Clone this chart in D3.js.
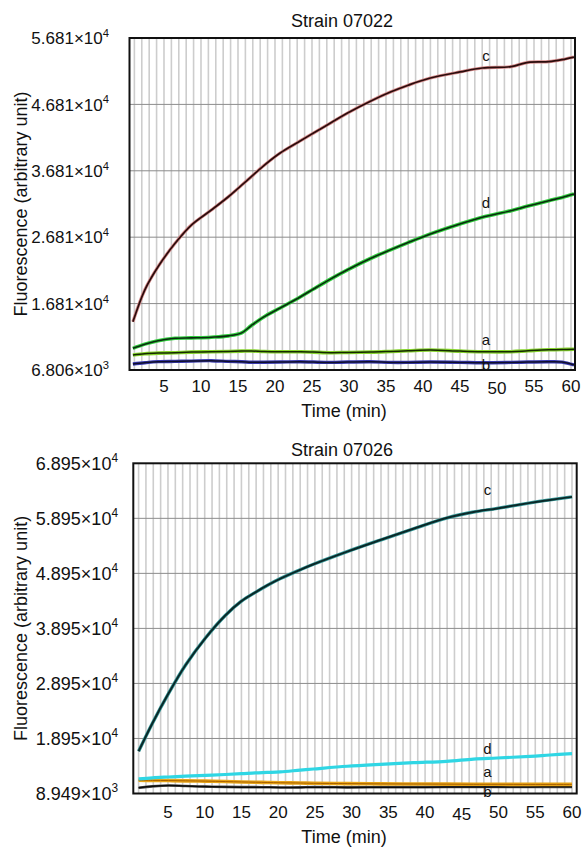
<!DOCTYPE html>
<html>
<head>
<meta charset="utf-8">
<script src="https://cdn.jsdelivr.net/npm/d3@7"></script>
<style>
  body { margin: 0; background: #fff; }
  text { font-family: "Liberation Sans", Arial, sans-serif; fill: #111; }
</style>
</head>
<body>
<div id="chart"></div>
<script>
(function () {

    var width = 586, height = 849

    // ---- data ----
    var xTicks = [5, 10, 15, 20, 25, 30, 35, 40, 45, 50, 55, 60]
    var gridMinutes = d3.range(1, 61)

    // Strain 07022
    var topTitle = 'Strain 07022'
    var topYTicks = [6806, 16810, 26810, 36810, 46810, 56810]
    var topYLabels = [['6.806', '3'], ['1.681', '4'], ['2.681', '4'], ['3.681', '4'], ['4.681', '4'], ['5.681', '4']]
    var topTime = [0.8, 2.4, 4.2, 6.5, 8.7, 11.4, 13.7, 15.5, 16.8, 18.5, 20.7, 23.4, 25.2, 27.5, 29.8, 32.9, 35.6, 38, 41, 45, 48, 51.9, 54.2, 57, 58.8, 60.4]
    var topC = [14060, 18850, 22360, 25890, 28640, 30900, 32900, 34650, 35920, 37600, 39490, 41300, 42500, 44000, 45510, 47300, 48670, 49700, 50780, 51700, 52290, 52500, 53150, 53250, 53550, 53940]
    var topD = [10070, 10700, 11220, 11580, 11650, 11750, 11950, 12400, 13500, 14800, 16140, 17800, 19000, 20500, 21900, 23600, 24900, 26000, 27300, 28800, 29800, 30800, 31500, 32300, 32800, 33310]
    var topA = [9065, 9250, 9350, 9410, 9500, 9560, 9600, 9650, 9670, 9600, 9560, 9560, 9500, 9410, 9450, 9500, 9600, 9700, 9820, 9650, 9560, 9560, 9700, 9850, 9900, 9920]
    var topB = [7710, 7900, 8060, 8100, 8150, 8210, 8100, 8050, 7970, 7980, 8000, 8050, 8000, 7950, 8000, 8050, 7950, 7950, 8000, 7950, 7900, 7950, 8000, 8050, 8000, 7560]

    // Strain 07026
    var botTitle = 'Strain 07026'
    var botYTicks = [8949, 18950, 28950, 38950, 48950, 58950, 68950]
    var botYLabels = [['8.949', '3'], ['1.895', '4'], ['2.895', '4'], ['3.895', '4'], ['4.895', '4'], ['5.895', '4'], ['6.895', '4']]
    var botTime = [1.0, 2.9, 5.1, 7.4, 10.1, 12.8, 15, 16.9, 18.5, 20.3, 23, 24.8, 29.4, 33.9, 38.4, 42.9, 46.6, 49.8, 54.3, 57, 60]
    var botC = [16620, 21770, 27200, 32300, 37200, 41300, 43900, 45500, 46750, 48000, 49600, 50600, 52900, 55000, 57050, 59000, 60100, 60750, 61760, 62300, 62850]
    var botD = [11610, 11800, 11950, 12100, 12250, 12400, 12550, 12700, 12780, 12880, 13200, 13400, 13900, 14250, 14550, 14800, 15200, 15400, 15700, 15950, 16200]
    var botA = [11360, 11330, 11300, 11250, 11200, 11120, 11050, 11000, 10950, 10900, 10850, 10800, 10750, 10700, 10680, 10650, 10620, 10620, 10600, 10600, 10600]
    var botB = [9980, 10250, 10400, 10300, 10200, 10150, 10100, 10100, 10080, 10050, 10060, 10100, 10060, 10080, 10100, 10120, 10150, 10120, 10150, 10160, 10160]

    var svg = d3.select('#chart')
        .append('svg')
        .attr('width', width)
        .attr('height', height)

    svg.append('rect').attr('width', width).attr('height', height).attr('fill', '#fff')

    function zip(t, v) {
        return t.map(function (d, i) { return { t: d, v: v[i] } })
    }

    function panel(opt) {
        var g = svg.append('g')

        var x = d3.scaleLinear().domain(opt.xDomain).range([opt.left, opt.right])
        var y = d3.scaleLinear().domain([opt.yTicks[0], opt.yTicks[opt.yTicks.length - 1]]).range([opt.bottom, opt.top])

        // vertical minute grid
        g.selectAll('.vgrid')
            .data(gridMinutes.filter(function (m) { return x(m) < opt.right - 1 }))
            .enter().append('line')
            .attr('x1', function (d) { return x(d) })
            .attr('x2', function (d) { return x(d) })
            .attr('y1', opt.top)
            .attr('y2', opt.bottom)
            .attr('stroke', '#cdcdcd')
            .attr('stroke-width', 1.6)

        // horizontal grid at y ticks
        g.selectAll('.hgrid')
            .data(opt.yTicks.slice(1, -1))
            .enter().append('line')
            .attr('x1', opt.left)
            .attr('x2', opt.right)
            .attr('y1', function (d) { return y(d) })
            .attr('y2', function (d) { return y(d) })
            .attr('stroke', '#8c8c8c')
            .attr('stroke-width', 1)

        var line = d3.line()
            .x(function (d) { return x(d.t) })
            .y(function (d) { return y(d.v) })
            .curve(d3.curveCatmullRom.alpha(0.5))

        opt.series.forEach(function (s) {
            var pts = zip(opt.time, s.values)
            g.append('path').datum(pts)
                .attr('d', line)
                .attr('fill', 'none')
                .attr('stroke', s.halo)
                .attr('stroke-width', s.haloWidth)
                .attr('stroke-linejoin', 'round')
            if (s.core) {
                g.append('path').datum(pts)
                    .attr('d', line)
                    .attr('fill', 'none')
                    .attr('stroke', s.core)
                    .attr('stroke-width', s.coreWidth)
                    .attr('stroke-linejoin', 'round')
            }
        })

        // curve labels
        opt.series.forEach(function (s) {
            g.append('text')
                .attr('x', x(48.5))
                .attr('y', y(s.labelAt))
                .attr('text-anchor', 'middle')
                .attr('font-size', 15)
                .text(s.name)
        })

        // frame
        g.append('rect')
            .attr('x', opt.left)
            .attr('y', opt.top)
            .attr('width', opt.right - opt.left)
            .attr('height', opt.bottom - opt.top)
            .attr('fill', 'none')
            .attr('stroke', '#111')
            .attr('stroke-width', 2)

        // y tick labels like 5.681×10^4
        var yl = g.selectAll('.ylab')
            .data(opt.yTicks)
            .enter().append('text')
            .attr('x', opt.yLabelX)
            .attr('y', function (d) { return y(d) + opt.yFont * 0.36 })
            .attr('text-anchor', 'end')
            .attr('font-size', opt.yFont)
        yl.append('tspan').text(function (d, i) { return opt.yLabels[i][0] + '×10' })
        yl.append('tspan')
            .attr('dy', -opt.yFont * 0.42)
            .attr('font-size', opt.yFont * 0.66)
            .text(function (d, i) { return opt.yLabels[i][1] })

        // x tick labels
        g.selectAll('.xlab')
            .data(xTicks)
            .enter().append('text')
            .attr('x', function (d) { return x(d) })
            .attr('y', function (d) { return opt.xLabelY + (d === opt.lowTick ? 2 : 0) })
            .attr('text-anchor', 'middle')
            .attr('font-size', 17)
            .text(function (d) { return d })

        g.append('text')
            .attr('x', 344)
            .attr('y', opt.xTitleY)
            .attr('text-anchor', 'middle')
            .attr('font-size', 18)
            .text('Time (min)')

        g.append('text')
            .attr('x', 342)
            .attr('y', opt.titleY)
            .attr('text-anchor', 'middle')
            .attr('font-size', 18)
            .text(opt.title)

        g.append('text')
            .attr('transform', 'translate(' + 27 + ',' + ((opt.top + opt.bottom) / 2) + ') rotate(-90)')
            .attr('text-anchor', 'middle')
            .attr('font-size', 18)
            .text('Fluorescence (arbitrary unit)')
    }

    panel({
        title: topTitle, titleY: 27,
        left: 129.5, right: 575, top: 38, bottom: 370,
        xDomain: [0.34, 60.54],
        yTicks: topYTicks, yLabels: topYLabels, yLabelX: 109, yFont: 17,
        xLabelY: 392, xTitleY: 417, lowTick: 50,
        time: topTime,
        series: [
            { name: 'a', values: topA, halo: '#86d42c', haloWidth: 3.6, core: '#142800', coreWidth: 1.5, labelAt: 10550 },
            { name: 'b', values: topB, halo: '#3a3ab0', haloWidth: 3.4, core: '#10102a', coreWidth: 1.5, labelAt: 6806 },
            { name: 'd', values: topD, halo: '#2fcc3c', haloWidth: 3.6, core: '#0b2a10', coreWidth: 1.6, labelAt: 31200 },
            { name: 'c', values: topC, halo: '#d58a8a', haloWidth: 3.2, core: '#2a0c0c', coreWidth: 1.7, labelAt: 53300 }
        ]
    })

    panel({
        title: botTitle, titleY: 456,
        left: 133.3, right: 576.7, top: 463.3, bottom: 793.5,
        xDomain: [0.28, 60.64],
        yTicks: botYTicks, yLabels: botYLabels, yLabelX: 118, yFont: 18,
        xLabelY: 818, xTitleY: 843, lowTick: 45,
        time: botTime,
        series: [
            { name: 'b', values: botB, halo: '#555', haloWidth: 2.6, core: '#0a0a0a', coreWidth: 1.5, labelAt: 8400 },
            { name: 'a', values: botA, halo: '#e8a417', haloWidth: 3.6, core: '#a86000', coreWidth: 1, labelAt: 11900 },
            { name: 'd', values: botD, halo: '#2fd6e4', haloWidth: 3.2, core: null, labelAt: 16100 },
            { name: 'c', values: botC, halo: '#3b9c9c', haloWidth: 3.4, core: '#0a2828', coreWidth: 2, labelAt: 63200 }
        ]
    })

})()
</script>
</body>
</html>
